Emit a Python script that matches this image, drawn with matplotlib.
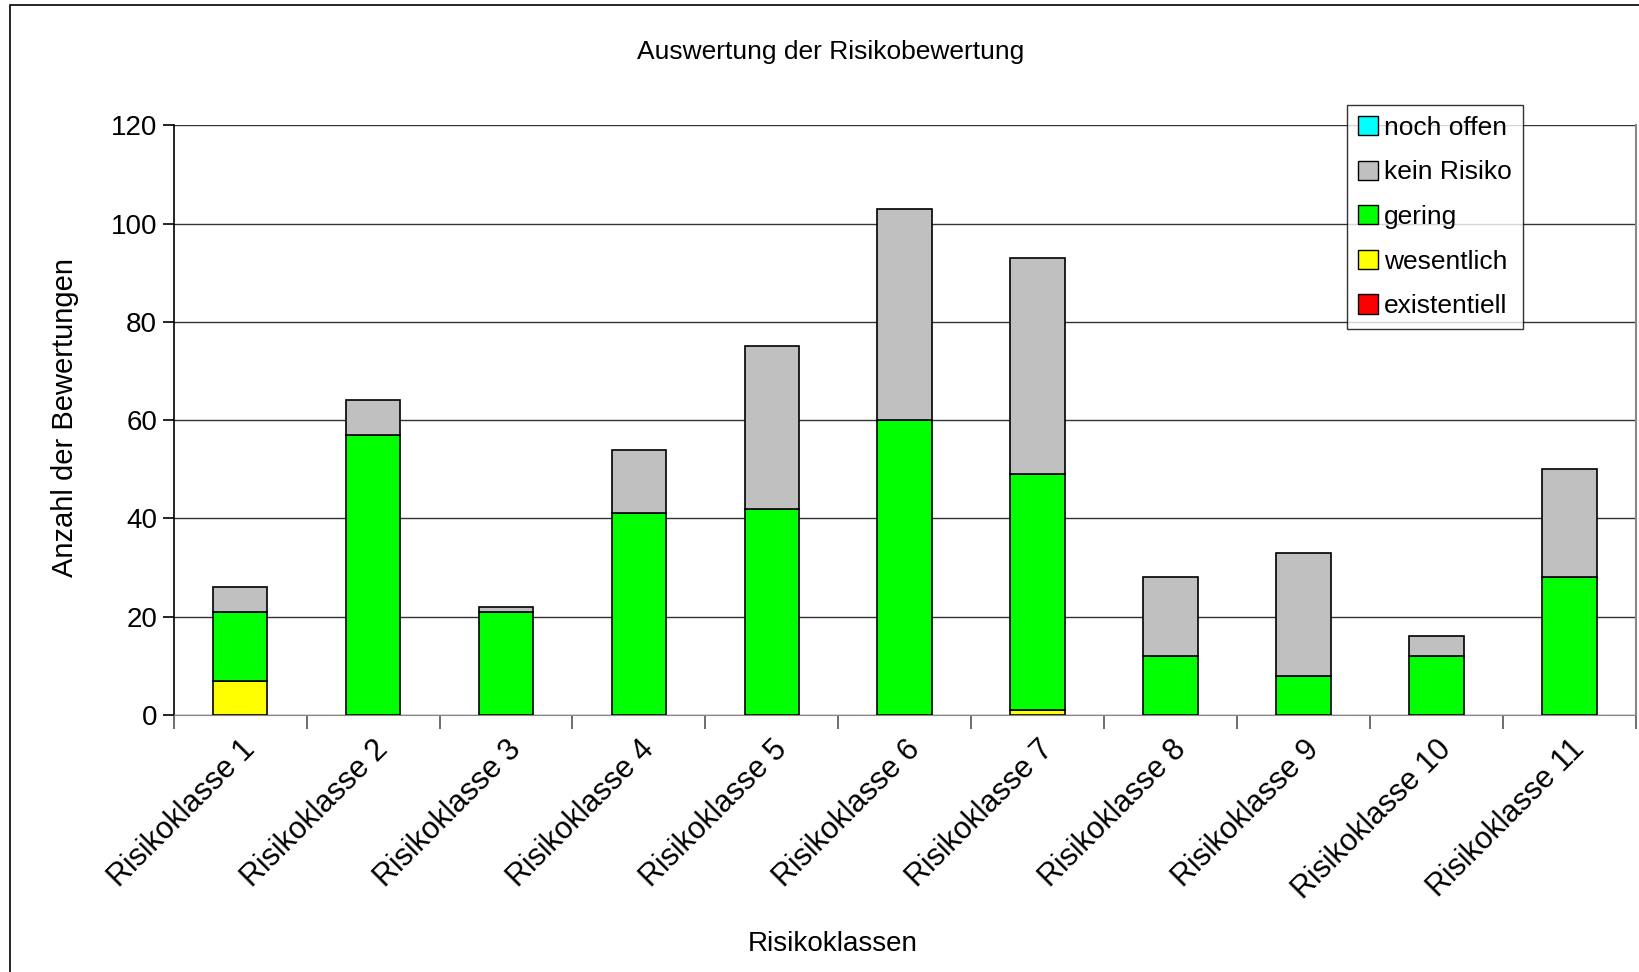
import numpy as np
import matplotlib.pyplot as plt
from matplotlib.patches import Rectangle, Patch

plt.rcParams['font.family'] = ['Liberation Sans', 'DejaVu Sans']

# --- data ---
categories = [f"Risikoklasse {i}" for i in range(1, 12)]
existentiell = [0, 0, 0, 0, 0, 0, 0, 0, 0, 0, 0]
wesentlich = [7, 0, 0, 0, 0, 0, 1, 0, 0, 0, 0]
gering = [14, 57, 21, 41, 42, 60, 48, 12, 8, 12, 28]
kein_risiko = [5, 7, 1, 13, 33, 43, 44, 16, 25, 4, 22]
noch_offen = [0, 0, 0, 0, 0, 0, 0, 0, 0, 0, 0]

series = [
    ("existentiell", existentiell, "#ff0000"),
    ("wesentlich", wesentlich, "#ffff00"),
    ("gering", gering, "#00ff00"),
    ("kein Risiko", kein_risiko, "#c0c0c0"),
    ("noch offen", noch_offen, "#00ffff"),
]

fig = plt.figure(figsize=(16.39, 9.72), dpi=100)
fig.patch.set_facecolor("white")
# chart area border
fig.add_artist(Rectangle((10 / 1639, -0.05), 1.1, 1 - 5 / 972 + 0.05,
                         transform=fig.transFigure, fill=False,
                         edgecolor="black", linewidth=1.2))

ax = fig.add_axes([0.106, 0.2645, 0.892, 0.6065])
x = np.arange(len(categories))
bottom = np.zeros(len(categories))
for name, vals, color in series:
    vals = np.array(vals, dtype=float)
    mask = vals > 0
    ax.bar(x[mask], vals[mask], bottom=bottom[mask], width=0.41, color=color,
           edgecolor="black", linewidth=1.2, zorder=3)
    bottom += vals

ax.set_ylim(0, 120)
ax.set_xlim(-0.5, len(categories) - 0.5)
ax.set_yticks(range(0, 121, 20))
ax.yaxis.grid(True, color="#333333", linewidth=1.0, zorder=0)
ax.tick_params(axis="y", labelsize=20, length=8, width=1.2, direction="out", pad=4)

ax.set_xticks(x)
ax.set_xticklabels(categories, rotation=45, ha="right", rotation_mode="anchor", fontsize=22)
ax.tick_params(axis="x", which="major", length=0, pad=14)
ax.set_xticks(np.arange(-0.5, len(categories)), minor=True)
ax.tick_params(axis="x", which="minor", length=10, width=1.2, color="#555555")

ax.spines["top"].set_visible(False)
ax.spines["right"].set_color("#888888")
ax.spines["right"].set_linewidth(1.5)
ax.spines["bottom"].set_color("#888888")
ax.spines["left"].set_color("black")
ax.spines["left"].set_linewidth(1.2)

ax.set_ylabel("Anzahl der Bewertungen", fontsize=21, va="center")
ax.yaxis.set_label_coords(-0.0743, 0.504)
ax.set_xlabel("Risikoklassen", fontsize=20, va="center")
ax.xaxis.set_label_coords(0.451, -0.388)
fig.text(0.507, 0.946, "Auswertung der Risikobewertung", ha="center", va="center", fontsize=19)

handles = [Patch(facecolor=c, edgecolor="black", label=n) for n, _, c in reversed(series)]
leg = ax.legend(handles=handles, loc="upper right", bbox_to_anchor=(0.923, 1.035),
                fontsize=19, frameon=True, fancybox=False, edgecolor="black",
                handlelength=0.75, handleheight=0.75, handletextpad=0.25,
                labelspacing=0.78, borderpad=0.42, borderaxespad=0)
leg.get_frame().set_linewidth(1.0)
leg.set_zorder(5)

fig.savefig("out.png", dpi=100, facecolor="white")
